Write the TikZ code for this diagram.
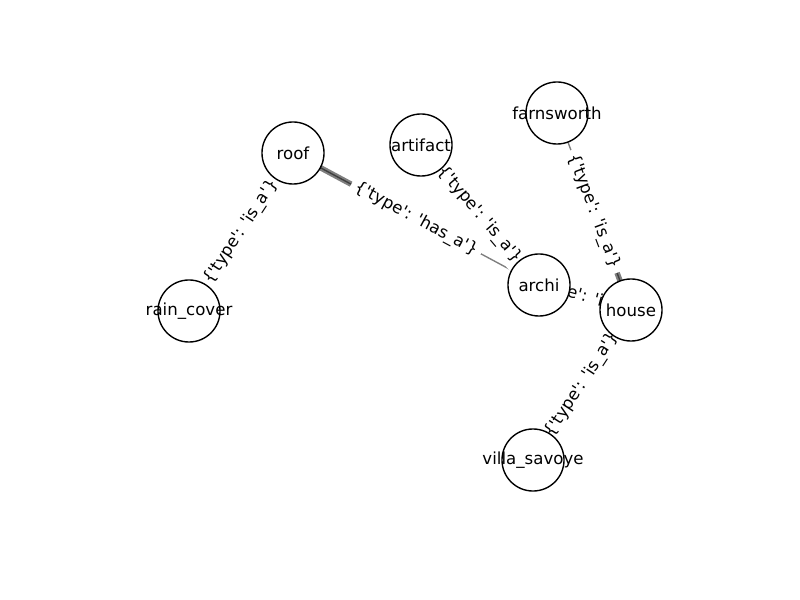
\documentclass[tikz,border=0pt]{standalone}
\usepackage{fontspec}
\newfontfamily\dv{DejaVu Sans}
\usetikzlibrary{calc}
\pgfdeclarelayer{edges}
\pgfdeclarelayer{labels}
\pgfsetlayers{edges,labels,main}
\begin{document}
\begin{tikzpicture}[x=0.01in,y=-0.01in,
  gnode/.style={circle,draw=black,line width=1pt,fill=white,minimum size=0.62in,inner sep=0pt,
    label={[font=\dv\fontsize{12}{14}\selectfont,inner sep=0pt]center:#1}},
  edgeline/.style={draw=black,draw opacity=0.5,line width=1pt},
  headseg/.style={draw=black,draw opacity=0.5,line width=4pt,line cap=butt},
  elabel/.style={fill=white,rounded corners=3.6pt,inner sep=3.6pt,sloped,midway,font=\dv\fontsize{12}{14}\selectfont}]
\useasboundingbox (0,0) rectangle (800,600);
\node[gnode=roof] (roof) at (293,153) {};
\node[gnode=artifact] (artifact) at (421,145) {};
\node[gnode=farnsworth] (farnsworth) at (557,113) {};
\node[gnode=archi] (archi) at (539,285) {};
\node[gnode=house] (house) at (631,310) {};
\node[gnode=rain\_cover] (rain) at (189,311) {};
\node[gnode=villa\_savoye] (villa) at (533,460) {};
\begin{pgfonlayer}{edges}
\draw[edgeline] (archi.center) -- (roof.center);
\draw[headseg] (roof.center) -- ($(roof.center)!0.25!(archi.center)$);
\draw[edgeline] (farnsworth.center) -- (house.center);
\draw[headseg] (house.center) -- ($(house.center)!0.25!(farnsworth.center)$);
\draw[edgeline] (archi.center) -- (artifact.center);
\draw[headseg] (artifact.center) -- ($(artifact.center)!0.25!(archi.center)$);
\draw[edgeline] (roof.center) -- (rain.center);
\draw[headseg] (rain.center) -- ($(rain.center)!0.25!(roof.center)$);
\draw[edgeline] (archi.center) -- (house.center);
\draw[headseg] (house.center) -- ($(house.center)!0.25!(archi.center)$);
\draw[edgeline] (villa.center) -- (house.center);
\draw[headseg] (house.center) -- ($(house.center)!0.25!(villa.center)$);
\end{pgfonlayer}
\begin{pgfonlayer}{labels}
\path (roof.center) -- (archi.center) node[elabel] {\{'type': 'has\_a'\}};
\path (farnsworth.center) -- (house.center) node[elabel] {\{'type': 'is\_a'\}};
\path (artifact.center) -- (archi.center) node[elabel] {\{'type': 'is\_a'\}};
\path (rain.center) -- (roof.center) node[elabel] {\{'type': 'is\_a'\}};
\path (archi.center) -- (house.center) node[elabel] {\{'type': 'is\_a'\}};
\path (villa.center) -- (house.center) node[elabel] {\{'type': 'is\_a'\}};
\end{pgfonlayer}
\end{tikzpicture}
\end{document}
